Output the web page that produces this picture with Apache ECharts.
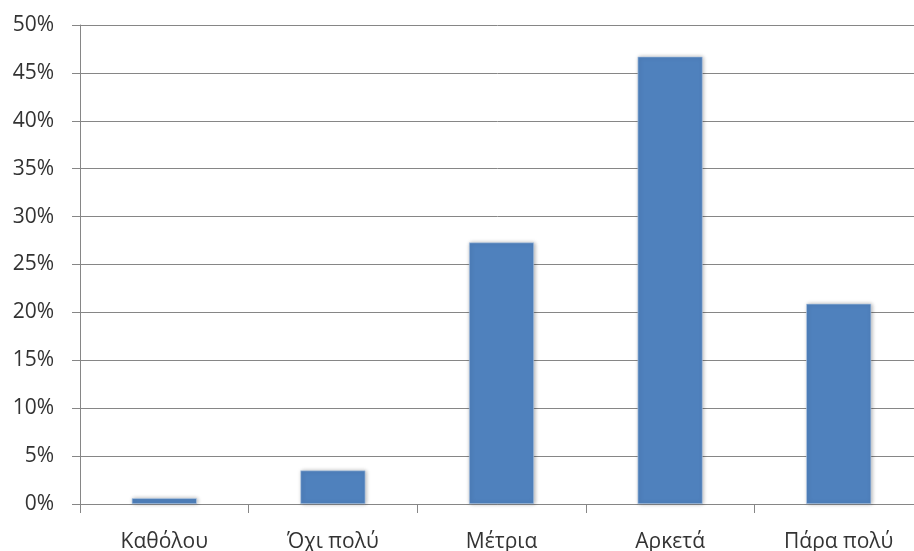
<!DOCTYPE html>
<html>
<head>
<meta charset="utf-8">
<script src="https://cdn.jsdelivr.net/npm/echarts@6/dist/echarts.min.js"></script>
<style>
  html, body { margin: 0; padding: 0; background: #fff; }
  #chart { width: 914px; height: 551px; }
</style>
</head>
<body>
<div id="chart"></div>
<script>
// Response categories and their shares (%)
const categories = ['Καθόλου', 'Όχι πολύ', 'Μέτρια', 'Αρκετά', 'Πάρα πολύ'];
const shares = [0.6, 3.5, 27.3, 46.7, 20.9];
const yTicks = [0, 5, 10, 15, 20, 25, 30, 35, 40, 45, 50];

const chart = echarts.init(document.getElementById('chart'));
const textColor = '#333333';
const lineColor = '#868686';
const font = '"Open Sans", "Noto Sans", sans-serif';

chart.setOption({
  animation: false,
  grid: { left: 80, right: -9, top: 25, bottom: 47, outerBoundsMode: 'none', containLabel: false },
  xAxis: {
    type: 'category',
    data: categories,
    axisLine: { lineStyle: { color: lineColor, width: 1 } },
    axisTick: { show: true, length: 9, lineStyle: { color: lineColor } },
    axisLabel: { color: textColor, fontSize: 21, fontFamily: font, margin: 28 }
  },
  yAxis: {
    type: 'value',
    min: yTicks[0],
    max: yTicks[yTicks.length - 1],
    interval: yTicks[1] - yTicks[0],
    axisLine: { show: true, lineStyle: { color: lineColor, width: 1 } },
    axisTick: { show: true, length: 8, lineStyle: { color: lineColor } },
    splitLine: { lineStyle: { color: lineColor, width: 1 } },
    axisLabel: { color: textColor, fontSize: 21, fontFamily: font, margin: 26,
                 formatter: v => v + '%' }
  },
  series: [{
    type: 'bar',
    data: shares,
    barWidth: 65,
    itemStyle: {
      color: '#4F81BD',
      borderColor: '#B9CDE5',
      borderWidth: 0.6,
      shadowBlur: 4,
      shadowColor: 'rgba(0,0,0,0.3)',
      shadowOffsetX: 1,
      shadowOffsetY: 0
    }
  }]
});
</script>
</body>
</html>
